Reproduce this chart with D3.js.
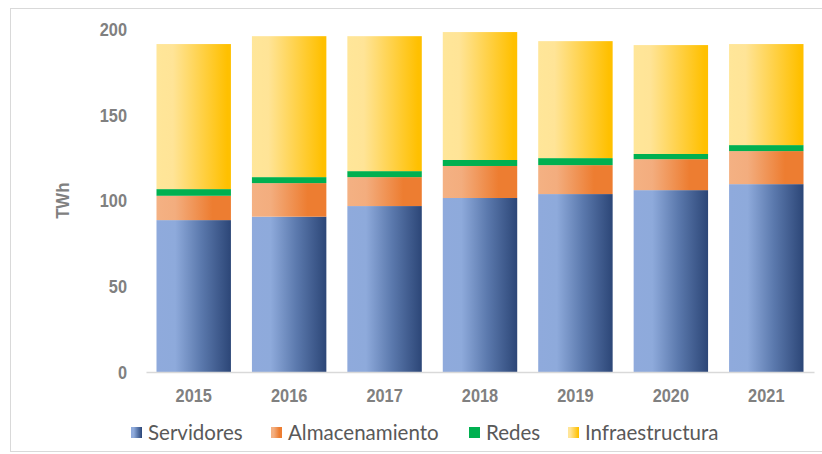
<!DOCTYPE html>
<html><head><meta charset="utf-8">
<script src="https://cdn.jsdelivr.net/npm/d3@7"></script>
<style>
html,body{margin:0;padding:0;background:#fff;}
svg{display:block;}
</style></head>
<body>
<svg id="chart" width="822" height="454"></svg>
<script>
const categories = ["2015","2016","2017","2018","2019","2020","2021"];
const seriesNames = ["Servidores","Almacenamiento","Redes","Infraestructura"];
const servidores = [88.7, 90.7, 96.9, 101.6, 103.9, 106.2, 109.7];
const almacenamiento = [14.2, 19.6, 16.9, 18.7, 16.9, 18.1, 19.3];
const redes = [3.9, 3.5, 3.5, 3.5, 4.1, 3.0, 3.5];
const infraestructura = [84.7, 82.3, 78.8, 74.7, 68.3, 63.6, 59.0];
const yTicks = [0, 50, 100, 150, 200];
const yLabel = "TWh";

const svg = d3.select("#chart");

// frame
svg.append("rect").attr("x", 10.5).attr("y", 8.5).attr("width", 830).attr("height", 443)
  .attr("fill", "#fff").attr("stroke", "#d9d9d9").attr("stroke-width", 1);

const defs = svg.append("defs");
const grads = [
  {id: "gServ", stops: [[0, "#8faadc"], [0.25, "#8eaadb"], [0.6, "#5b79ad"], [1, "#2c4677"]]},
  {id: "gAlm", stops: [[0, "#f4b183"], [0.25, "#f3ad7e"], [0.75, "#ed7d31"], [1, "#ed7d31"]]},
  {id: "gRed", stops: [[0, "#00b050"], [1, "#00b050"]]},
  {id: "gInf", stops: [[0, "#ffe699"], [0.22, "#ffe497"], [0.95, "#ffc000"], [1, "#ffc000"]]}
];
grads.forEach(g => {
  const lg = defs.append("linearGradient").attr("id", g.id)
    .attr("x1", "0%").attr("x2", "100%").attr("y1", "0%").attr("y2", "0%");
  g.stops.forEach(s => lg.append("stop").attr("offset", s[0]).attr("stop-color", s[1]));
});

const x = d3.scaleBand().domain(categories).range([146, 814]).paddingInner(0.22).paddingOuter(0.11);
const y = d3.scaleLinear().domain([0, 200]).range([372, 29.5]);

const rows = categories.map((c, i) => ({
  cat: c, Servidores: servidores[i], Almacenamiento: almacenamiento[i],
  Redes: redes[i], Infraestructura: infraestructura[i]
}));
const stacked = d3.stack().keys(seriesNames)(rows);

const layers = svg.append("g").selectAll("g").data(stacked).join("g")
  .attr("fill", (d, i) => `url(#${grads[i].id})`);
layers.selectAll("rect").data(d => d).join("rect")
  .attr("x", d => x(d.data.cat))
  .attr("width", x.bandwidth())
  .attr("y", d => y(d[1]))
  .attr("height", d => y(d[0]) - y(d[1]));

// narrow-look labels: compress glyphs horizontally
function narrow(sel, factor) {
  sel.each(function() {
    const len = this.getComputedTextLength();
    d3.select(this).attr("textLength", len * factor).attr("lengthAdjust", "spacingAndGlyphs");
  });
}

const labelFont = "'Liberation Sans',Arial,sans-serif";

const xAxis = svg.append("g").attr("transform", `translate(0,${y(0)})`)
  .call(d3.axisBottom(x).tickSize(0).tickPadding(17));
xAxis.select(".domain").attr("stroke", "#d9d9d9").attr("stroke-width", 1.5);
xAxis.selectAll("text").attr("font-family", labelFont)
  .attr("font-weight", "bold").attr("font-size", 19).attr("fill", "#808080")
  .call(narrow, 0.86);

const yAxis = svg.append("g").attr("transform", `translate(127,0)`)
  .call(d3.axisLeft(y).tickValues(yTicks).tickSize(0).tickPadding(0));
yAxis.select(".domain").remove();
yAxis.selectAll("text").attr("font-family", labelFont)
  .attr("font-weight", "bold").attr("font-size", 19).attr("fill", "#808080")
  .call(narrow, 0.86);

svg.append("text").text(yLabel)
  .attr("transform", `translate(69,${y(100)}) rotate(-90)`)
  .attr("text-anchor", "middle")
  .attr("font-family", labelFont)
  .attr("font-weight", "bold").attr("font-size", 19).attr("fill", "#808080")
  .call(narrow, 0.88);

// legend
const legendX = [131, 271, 469, 568];
const lg = svg.append("g");
seriesNames.forEach((n, i) => {
  lg.append("rect").attr("x", legendX[i]).attr("y", 427).attr("width", 11).attr("height", 11)
    .attr("fill", `url(#${grads[i].id})`);
  lg.append("text").text(n).attr("x", legendX[i] + 17).attr("y", 439.5)
    .attr("font-family", "Lato, sans-serif").attr("font-size", 20.5).attr("fill", "#595959");
});
</script>
</body></html>
